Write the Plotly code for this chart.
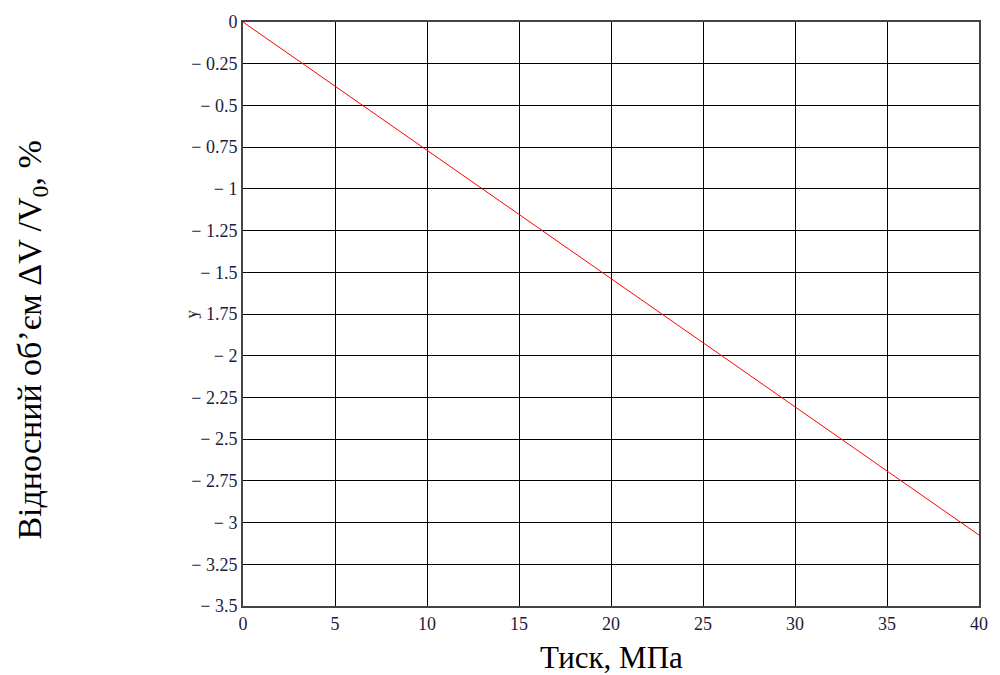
import plotly.graph_objects as go

pressure = [0, 5, 10, 15, 20, 25, 30, 35, 40]
rel_volume = [0, -0.385, -0.77, -1.153, -1.538, -1.922, -2.306, -2.69, -3.075]

x_ticks = [0, 5, 10, 15, 20, 25, 30, 35, 40]
y_ticks = [0, -0.25, -0.5, -0.75, -1, -1.25, -1.5, -1.75, -2, -2.25, -2.5, -2.75, -3, -3.25, -3.5]
y_ticktext = ["0", "− 0.25", "− 0.5", "− 0.75", "− 1", "− 1.25", "− 1.5", "− 1.75", "− 2",
              "− 2.25", "− 2.5", "− 2.75", "− 3", "− 3.25", "− 3.5"]

font = "Liberation Serif, Times New Roman, serif"
tick_color = "#1c1c3a"

W, H = 1000, 675
ML, MR, MT, MB = 243, 13, 17, 69
pw, ph = W - ML - MR, H - MT - MB

fig = go.Figure()
fig.add_trace(go.Scatter(x=pressure, y=rel_volume, mode="lines",
                         line=dict(color="#ff0000", width=1), showlegend=False))

fig.update_layout(
    width=W, height=H,
    margin=dict(l=ML, r=MR, t=MT, b=MB),
    paper_bgcolor="white", plot_bgcolor="white",
    font=dict(family=font, size=18, color=tick_color),
    xaxis=dict(range=[0, 40], tickvals=x_ticks, ticktext=[str(v) for v in x_ticks],
               showgrid=True, gridcolor="black", gridwidth=1,
               showline=True, linecolor="#444444", linewidth=2, mirror=True,
               zeroline=False, ticks="", ticklabelstandoff=0,
               tickfont=dict(family=font, size=18, color=tick_color)),
    yaxis=dict(range=[-3.5, 0], tickvals=y_ticks, ticktext=y_ticktext,
               showgrid=True, gridcolor="black", gridwidth=1,
               showline=True, linecolor="#444444", linewidth=2, mirror=True,
               zeroline=False, ticks="", ticklabelstandoff=0,
               tickfont=dict(family=font, size=18, color=tick_color)),
)

# axis titles
fig.add_annotation(x=(30 - ML) / pw, y=(H - MB - 338) / ph, xref="paper", yref="paper",
                   text="Відносний об’єм ΔV /V<sub>0</sub>, %", textangle=-90,
                   showarrow=False, xanchor="center", yanchor="middle",
                   font=dict(family=font, size=34, color="black"))
fig.add_annotation(x=(615 - ML) / pw, y=-(658 - (H - MB)) / ph, xref="paper", yref="paper",
                   text="Тиск, МПа", showarrow=False, xanchor="center", yanchor="middle",
                   font=dict(family=font, size=31, color="black"))

# axis variable marker
fig.add_annotation(x=0, y=-1.75, xref="paper", yref="y", text="y", textangle=-90,
                   showarrow=False, xanchor="right", xshift=-41,
                   font=dict(family=font, size=17, color=tick_color))

fig.write_html("out.html")
